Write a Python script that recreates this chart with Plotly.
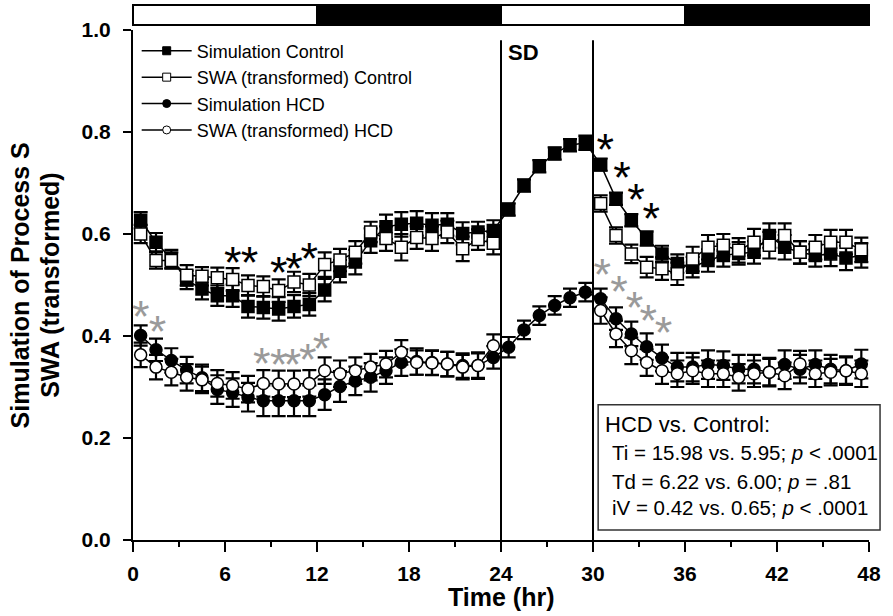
import plotly.graph_objects as go

# ---------------- data ----------------
hours = [0.5, 1.5, 2.5, 3.5, 4.5, 5.5, 6.5, 7.5, 8.5, 9.5, 10.5, 11.5,
         12.5, 13.5, 14.5, 15.5, 16.5, 17.5, 18.5, 19.5, 20.5, 21.5, 22.5, 23.5,
         24.5, 25.5, 26.5, 27.5, 28.5, 29.5, 30.5, 31.5, 32.5, 33.5, 34.5, 35.5,
         36.5, 37.5, 38.5, 39.5, 40.5, 41.5, 42.5, 43.5, 44.5, 45.5, 46.5, 47.5]

sim_control = [0.627, 0.584, 0.551, 0.510, 0.492, 0.479, 0.479, 0.458, 0.456, 0.453, 0.458, 0.462,
               0.490, 0.527, 0.545, 0.587, 0.614, 0.619, 0.621, 0.617, 0.619, 0.601, 0.604, 0.607,
               0.648, 0.695, 0.733, 0.758, 0.774, 0.779, 0.736, 0.669, 0.627, 0.591, 0.561, 0.542,
               0.535, 0.548, 0.558, 0.562, 0.564, 0.597, 0.574, 0.564, 0.558, 0.561, 0.553, 0.558]
sim_control_err = [0.016, 0.018, 0.018, 0.018, 0.020, 0.020, 0.022, 0.022, 0.022, 0.023, 0.022, 0.022,
                   0.022, 0.022, 0.024, 0.024, 0.024, 0.024, 0.024, 0.024, 0.022, 0.022, 0.020, 0.020,
                   0.012, 0.012, 0.012, 0.012, 0.012, 0.014, 0.012, 0.012, 0.012, 0.014, 0.016, 0.018,
                   0.020, 0.022, 0.022, 0.022, 0.022, 0.024, 0.024, 0.022, 0.022, 0.024, 0.024, 0.024]

swa_control = [0.600, 0.548, 0.548, 0.519, 0.517, 0.514, 0.511, 0.499, 0.497, 0.489, 0.506, 0.500,
               0.540, 0.549, 0.564, 0.604, 0.591, 0.574, 0.593, 0.591, 0.604, 0.571, 0.589, 0.582,
               None, None, None, None, None, None, 0.660, 0.597, 0.561, 0.535, 0.532, 0.522,
               0.551, 0.574, 0.578, 0.568, 0.584, 0.578, 0.597, 0.564, 0.574, 0.584, 0.584, 0.569]
swa_control_err = [0.018, 0.016, 0.016, 0.020, 0.018, 0.020, 0.022, 0.020, 0.020, 0.022, 0.020, 0.022,
                   0.024, 0.022, 0.022, 0.020, 0.024, 0.026, 0.022, 0.024, 0.022, 0.024, 0.020, 0.022,
                   None, None, None, None, None, None, 0.016, 0.016, 0.018, 0.020, 0.022, 0.022,
                   0.024, 0.024, 0.022, 0.024, 0.026, 0.026, 0.024, 0.022, 0.024, 0.024, 0.024, 0.024]

sim_hcd = [0.401, 0.373, 0.352, 0.333, 0.318, 0.295, 0.289, 0.280, 0.273, 0.273, 0.273, 0.273,
           0.285, 0.301, 0.312, 0.319, 0.332, 0.348, 0.350, 0.348, 0.345, 0.342, 0.342, 0.358,
           0.378, 0.412, 0.440, 0.460, 0.475, 0.486, 0.473, 0.434, 0.404, 0.379, 0.357, 0.339,
           0.339, 0.344, 0.342, 0.335, 0.335, 0.329, 0.344, 0.335, 0.344, 0.335, 0.332, 0.345]
sim_hcd_err = [0.020, 0.022, 0.024, 0.026, 0.026, 0.028, 0.028, 0.028, 0.030, 0.030, 0.030, 0.030,
               0.030, 0.030, 0.028, 0.028, 0.026, 0.026, 0.026, 0.024, 0.024, 0.024, 0.024, 0.022,
               0.020, 0.018, 0.018, 0.018, 0.018, 0.018, 0.020, 0.022, 0.024, 0.026, 0.026, 0.028,
               0.028, 0.028, 0.028, 0.028, 0.028, 0.028, 0.028, 0.028, 0.028, 0.028, 0.028, 0.028]

swa_hcd = [0.363, 0.339, 0.329, 0.319, 0.314, 0.307, 0.303, 0.296, 0.307, 0.306, 0.306, 0.307,
           0.332, 0.326, 0.332, 0.339, 0.345, 0.368, 0.348, 0.347, 0.345, 0.339, 0.342, 0.381,
           None, None, None, None, None, None, 0.450, 0.404, 0.371, 0.348, 0.332, 0.326,
           0.332, 0.326, 0.326, 0.319, 0.326, 0.329, 0.322, 0.345, 0.326, 0.329, 0.332, 0.326]
swa_hcd_err = [0.024, 0.024, 0.026, 0.026, 0.026, 0.026, 0.026, 0.026, 0.026, 0.026, 0.026, 0.026,
               0.026, 0.026, 0.026, 0.026, 0.026, 0.024, 0.024, 0.024, 0.024, 0.024, 0.026, 0.022,
               None, None, None, None, None, None, 0.026, 0.026, 0.026, 0.026, 0.026, 0.026,
               0.026, 0.026, 0.026, 0.026, 0.026, 0.026, 0.026, 0.026, 0.026, 0.026, 0.026, 0.026]

# significance markers (glyph centres)
sig_black_x = [6.5, 7.6, 9.5, 10.5, 11.5, 30.8, 31.9, 32.8, 33.8]
sig_black_y = [0.558, 0.558, 0.540, 0.547, 0.566, 0.781, 0.725, 0.682, 0.646]
sig_gray_x = [0.5, 1.6, 8.4, 9.5, 10.4, 11.4, 12.3, 30.6, 31.7, 32.7, 33.6, 34.6]
sig_gray_y = [0.453, 0.424, 0.361, 0.358, 0.358, 0.368, 0.391, 0.535, 0.502, 0.471, 0.445, 0.422]

sd_start, sd_end = 24, 30
ld_blocks = [(0, 12, "white"), (12, 24, "black"), (24, 36, "white"), (36, 48, "black")]
x_ticks = [0, 6, 12, 18, 24, 30, 36, 42, 48]
y_ticks = [0.0, 0.2, 0.4, 0.6, 0.8, 1.0]

y_title_lines = ["Simulation of Process S", "SWA (transformed)"]
x_title = "Time (hr)"
stats_title = "HCD vs. Control:"
stats_lines = ["Ti = 15.98 vs. 5.95; <i>p</i> &lt; .0001",
               "Td = 6.22 vs. 6.00; <i>p</i> = .81",
               "iV = 0.42 vs. 0.65; <i>p</i> &lt; .0001"]

FONT = "Liberation Sans, Arial, sans-serif"

fig = go.Figure()

def add_series(y, err, symbol, fill, name):
    fig.add_trace(go.Scatter(
        x=hours, y=y, mode="lines+markers", name=name, showlegend=False,
        connectgaps=False,
        line=dict(color="black", width=1.5),
        marker=dict(symbol=symbol, size=12, color=fill, line=dict(color="black", width=1.5)),
        error_y=dict(type="data", array=err, visible=True, color="black", thickness=2.2, width=7),
    ))

add_series(sim_control, sim_control_err, "square", "black", "Simulation Control")
add_series(sim_hcd, sim_hcd_err, "circle", "black", "Simulation HCD")
add_series(swa_control, swa_control_err, "square", "white", "SWA (transformed) Control")
add_series(swa_hcd, swa_hcd_err, "circle", "white", "SWA (transformed) HCD")

# legend-only entries
for name, sym, fill in [("Simulation Control", "square", "black"),
                        ("SWA (transformed) Control", "square", "white"),
                        ("Simulation HCD", "circle", "black"),
                        ("SWA (transformed) HCD", "circle", "white")]:
    fig.add_trace(go.Scatter(
        x=[None], y=[None], mode="lines+markers", name=name,
        line=dict(color="black", width=1.5),
        marker=dict(symbol=sym, size=8, color=fill, line=dict(color="black", width=1)),
    ))

# asterisks (text glyph sits above its anchor; shift anchor down)
AST_SIZE = 45
ast_shift = 0.023
fig.add_trace(go.Scatter(
    x=sig_black_x, y=[v - ast_shift for v in sig_black_y], mode="text", text=["*"] * len(sig_black_x),
    textfont=dict(family=FONT, size=AST_SIZE, color="black"), showlegend=False, hoverinfo="skip"))
fig.add_trace(go.Scatter(
    x=sig_gray_x, y=[v - ast_shift for v in sig_gray_y], mode="text", text=["*"] * len(sig_gray_x),
    textfont=dict(family=FONT, size=AST_SIZE, color="#9a9a9a"), showlegend=False, hoverinfo="skip"))

shapes = []
# SD lines
for xv in (sd_start, sd_end):
    shapes.append(dict(type="line", xref="x", yref="y", x0=xv, x1=xv, y0=0, y1=0.98,
                       line=dict(color="black", width=2)))
# light/dark bar
for h0, h1, col in ld_blocks:
    shapes.append(dict(type="rect", xref="paper", yref="paper", x0=h0 / 48, x1=h1 / 48,
                       y0=1.0098, y1=1.049, fillcolor=col, line=dict(color="black", width=2)))
# stats box
shapes.append(dict(type="rect", xref="paper", yref="paper", x0=0.632, x1=1.015, y0=0.0196, y1=0.265,
                   fillcolor="white", line=dict(color="#333333", width=1.5), layer="below"))

annotations = [
    dict(text="SD", x=sd_start + 0.3, y=0.955, xref="x", yref="y", xanchor="left", yanchor="middle",
         showarrow=False, font=dict(family=FONT, size=22, color="black", weight="bold")),
    dict(text=stats_title, x=0.639, y=0.227, xref="paper", yref="paper", xanchor="left", yanchor="middle",
         showarrow=False, font=dict(family=FONT, size=22, color="black")),
    dict(text=x_title, x=0.5, y=-0.112, xref="paper", yref="paper", xanchor="center",
         yanchor="middle", showarrow=False, font=dict(family=FONT, size=25, color="black", weight="bold")),
]
for txt, xx in zip(y_title_lines, [-0.153, -0.113]):
    annotations.append(dict(text=txt, textangle=-90, x=xx, y=0.5, xref="paper", yref="paper",
                            xanchor="center", yanchor="middle", showarrow=False,
                            font=dict(family=FONT, size=25, color="black", weight="bold")))
for line_txt, yy in zip(stats_lines, [0.171, 0.114, 0.063]):
    annotations.append(dict(text=line_txt, x=0.648, y=yy, xref="paper", yref="paper", xanchor="left",
                            yanchor="middle", showarrow=False, font=dict(family=FONT, size=20.5, color="black")))

fig.update_layout(
    width=893, height=616,
    margin=dict(l=133, r=16, t=30, b=76),
    paper_bgcolor="white", plot_bgcolor="white",
    font=dict(family=FONT, color="black"),
    showlegend=True,
    legend=dict(x=0.005, y=0.995, xanchor="left", yanchor="top", font=dict(family=FONT, size=18),
                bgcolor="rgba(0,0,0,0)", tracegroupgap=0, itemwidth=50),
    xaxis=dict(range=[0, 48], tickvals=x_ticks, ticks="outside", ticklen=10, tickwidth=2, tickcolor="black",
               showline=True, linecolor="black", linewidth=2, showgrid=False, zeroline=False,
               tickfont=dict(family=FONT, size=21, color="black", weight="bold"), ticklabelstandoff=4,
               minor=dict(dtick=3, ticks="outside", ticklen=5, tickwidth=2, tickcolor="black", showgrid=False)),
    yaxis=dict(range=[0, 1.0], tickvals=y_ticks, tickformat=".1f", ticks="outside", ticklen=8, tickwidth=2,
               tickcolor="black", showline=True, linecolor="black", linewidth=2, showgrid=False, zeroline=False,
               tickfont=dict(family=FONT, size=21, color="black", weight="bold"), ticklabelstandoff=8),
    shapes=shapes,
    annotations=annotations,
)

fig.write_html("out.html", config={"displayModeBar": False},
               post_script="document.body.style.margin='0';document.body.style.overflow='hidden';")
